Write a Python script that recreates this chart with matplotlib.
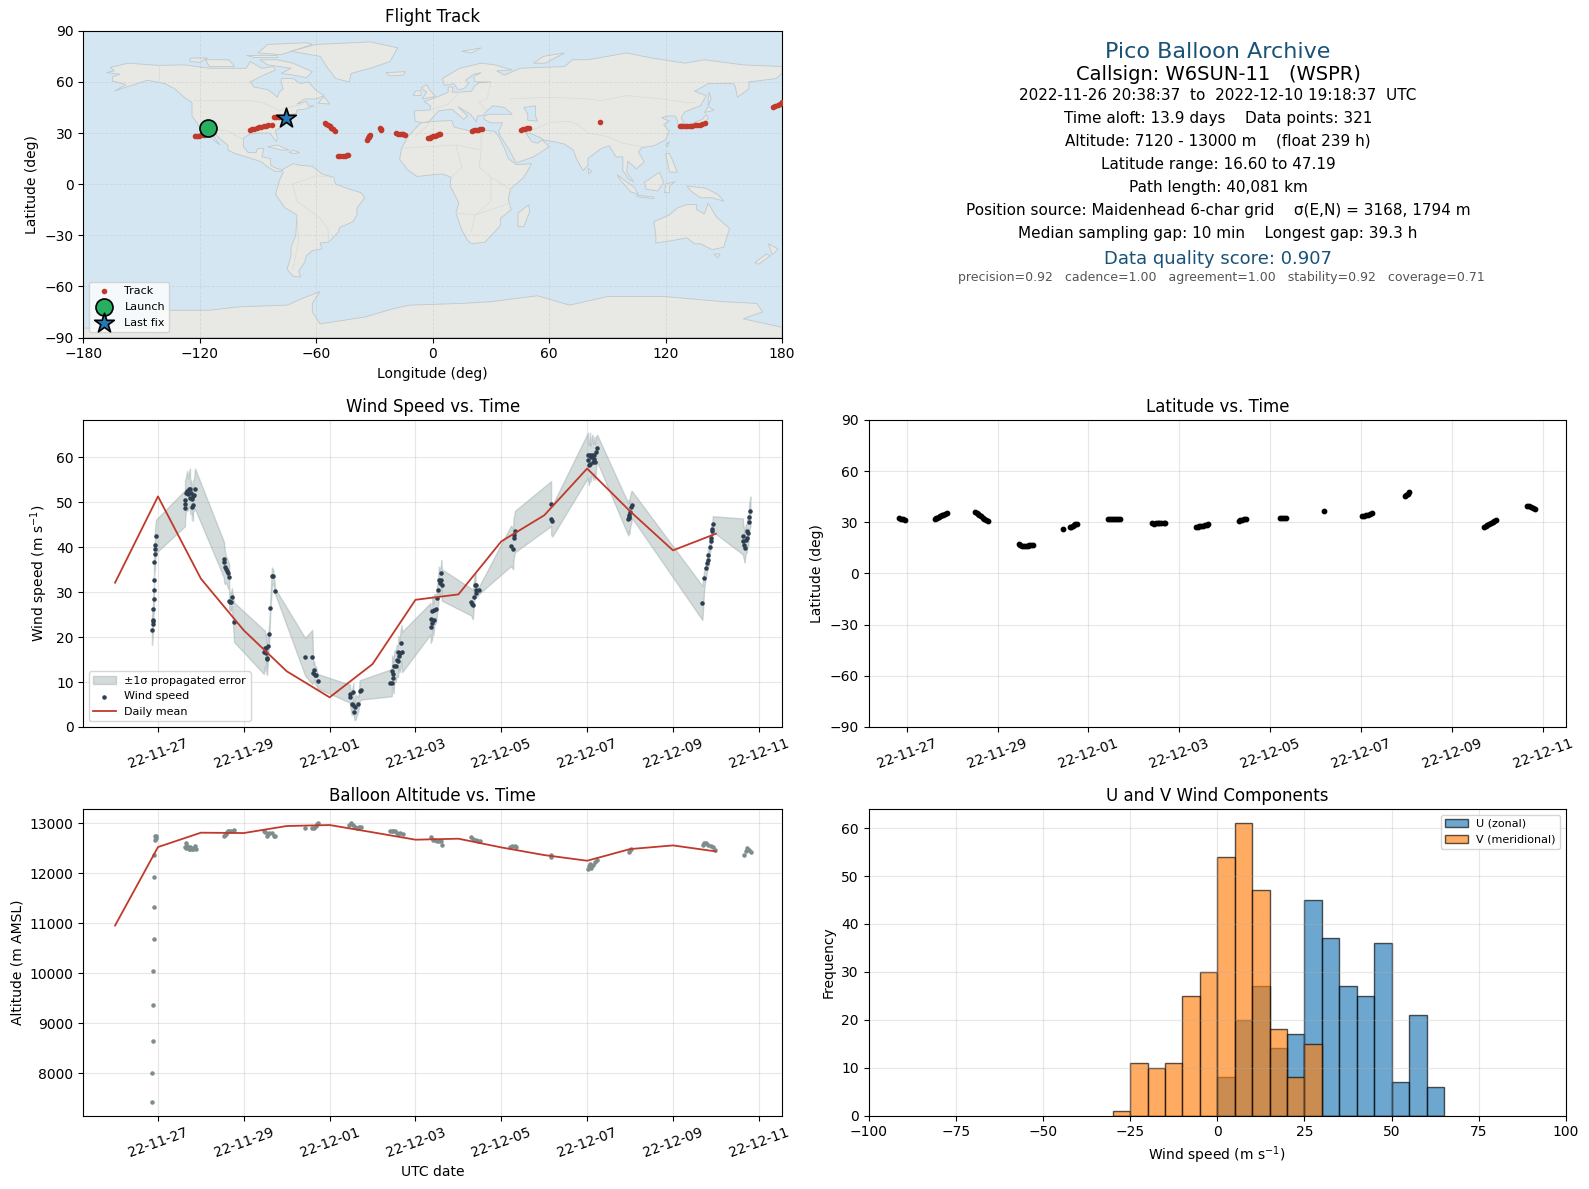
import numpy as np
import pandas as pd
import matplotlib
matplotlib.use('Agg')
import matplotlib.pyplot as plt
import matplotlib.dates as mdates
from matplotlib.patches import Polygon

# colors
RED = '#c0392b'
NAVY = '#2c3e50'
GREY = '#7f8c8d'
TITLE_BLUE = '#1a5276'
OCEAN = '#d4e6f1'
LAND = '#e8e8e4'
COAST = '#bfc8cc'

base_date = pd.Timestamp('2022-11-26')

# wind speed samples, days since 2022-11-26
wind_days = [0.860, 0.875, 0.875, 0.883, 0.883, 0.907, 0.907, 0.907, 0.907, 0.930, 0.930, 0.930, 0.953,
             1.630, 1.630, 1.630, 1.654, 1.677, 1.700, 1.724, 1.747, 1.747, 1.770, 1.794, 1.794, 1.817, 1.817, 1.840, 1.864,
             2.533, 2.540, 2.556, 2.580, 2.600, 2.620, 2.658, 2.660, 2.680, 2.700, 2.720, 2.774,
             3.467, 3.490, 3.510, 3.520, 3.530, 3.540, 3.568, 3.590, 3.615, 3.654, 3.685, 3.730,
             4.430, 4.595, 4.620, 4.640, 4.655, 4.680, 4.720,
             5.475, 5.476, 5.514, 5.553, 5.554, 5.576, 5.600, 5.670, 5.700, 5.730,
             6.416, 6.447, 6.455, 6.470, 6.486, 6.510, 6.540, 6.564, 6.595, 6.600, 6.620, 6.640, 6.673, 6.690,
             7.350, 7.358, 7.389, 7.390, 7.420, 7.436, 7.482, 7.506, 7.530, 7.545, 7.560, 7.590, 7.600, 7.615,
             8.300, 8.323, 8.338, 8.354, 8.377, 8.400, 8.401, 8.416, 8.479,
             9.226, 9.272, 9.288, 9.304, 9.320,
             10.160, 10.161, 10.190,
             11.020, 11.021, 11.040, 11.070, 11.075, 11.100, 11.120, 11.140, 11.160, 11.170, 11.185, 11.210, 11.233,
             11.957, 11.965, 11.970, 11.980, 12.000, 12.030, 12.043,
             13.685, 13.730, 13.780, 13.800, 13.817, 13.825, 13.856, 13.880, 13.887, 13.900, 13.920, 13.926,
             14.626, 14.640, 14.660, 14.670, 14.690, 14.720, 14.735, 14.750, 14.770, 14.775, 14.805]
wind_speed = [21.6, 23.0, 23.6, 23.9, 26.2, 28.4, 30.4, 32.7, 36.7, 38.4, 39.5, 40.4, 42.4,
              48.7, 49.6, 50.4, 52.1, 52.5, 51.8, 53.0, 53.0, 50.9, 52.0, 49.0, 50.7, 49.4, 51.3, 51.6, 53.0,
              37.3, 36.6, 35.6, 35.1, 34.8, 34.2, 33.3, 28.1, 27.9, 27.8, 28.9, 23.3,
              16.7, 17.5, 16.4, 17.6, 15.3, 15.1, 18.0, 20.7, 26.4, 33.5, 33.5, 30.2,
              15.6, 15.6, 12.0, 12.6, 11.6, 11.5, 10.2,
              7.4, 6.7, 5.1, 7.8, 4.8, 3.3, 4.4, 5.1, 8.1, 8.3,
              9.8, 9.9, 12.4, 11.8, 11.0, 13.5, 13.6, 14.8, 14.6, 16.7, 15.7, 16.4, 18.7, 16.7,
              24.1, 22.2, 23.1, 25.7, 23.9, 26.1, 26.3, 28.7, 30.5, 32.7, 32.0, 32.7, 34.2, 31.6,
              27.8, 27.4, 27.2, 29.0, 31.6, 31.6, 30.4, 29.8, 30.4,
              40.3, 39.6, 42.1, 42.7, 43.5,
              49.7, 46.2, 45.9,
              60.5, 59.4, 58.3, 60.5, 58.6, 60.0, 60.5, 59.0, 59.7, 60.5, 59.0, 61.2, 62.0,
              46.2, 46.8, 47.2, 46.4, 47.9, 49.0, 49.5,
              27.6, 33.1, 35.3, 36.4, 38.3, 37.2, 40.1, 41.3, 42.0, 43.5, 44.0, 45.2,
              42.4, 41.3, 40.5, 39.8, 41.7, 42.1, 43.5, 43.1, 45.6, 46.7, 48.0]
wind_err = [3.3, 3.0, 3.0, 3.0, 2.5, 2.5, 2.5, 3.0, 3.0, 3.3, 3.3, 3.5, 3.7,
            4.0, 4.0, 4.5, 3.5, 4.5, 3.5, 3.8, 4.5, 3.5, 3.0, 3.0, 3.5, 3.5, 3.5, 3.5, 4.5,
            4.0, 4.3, 3.8, 3.0, 3.0, 3.0, 3.0, 2.0, 2.0, 2.0, 2.0, 4.4,
            4.9, 4.0, 4.0, 3.0, 3.5, 3.5, 2.5, 2.0, 1.5, 2.0, 1.5, 0.6,
            4.2, 6.0, 2.0, 2.0, 2.0, 2.0, 1.6,
            2.0, 2.0, 2.5, 2.0, 2.0, 1.7, 2.8, 1.5, 2.3, 2.2,
            3.0, 3.0, 3.5, 3.5, 3.5, 3.5, 3.5, 3.5, 3.5, 3.5, 3.5, 4.0, 4.0, 4.5,
            3.5, 3.5, 3.5, 3.5, 3.5, 3.5, 3.0, 3.0, 3.0, 3.0, 3.0, 3.0, 3.0, 3.5,
            3.0, 3.2, 3.2, 3.0, 2.5, 2.5, 1.0, 1.0, 0.8,
            4.5, 4.5, 4.5, 4.5, 4.6,
            5.0, 3.5, 3.5,
            5.0, 4.5, 4.5, 5.0, 4.0, 4.0, 4.5, 4.0, 4.0, 4.0, 4.0, 3.5, 3.0,
            3.6, 3.6, 3.5, 3.5, 3.5, 3.5, 3.0,
            3.8, 2.0, 1.5, 1.5, 1.5, 1.5, 1.5, 1.5, 1.5, 1.5, 1.7, 1.7,
            4.0, 3.5, 3.5, 3.2, 3.2, 3.2, 3.0, 3.0, 3.0, 3.0, 3.3]

daily_days = list(range(15))
daily_wind = [32.1, 51.3, 33.0, 21.5, 12.4, 6.6, 14.0, 28.3, 29.5, 41.3, 47.1, 57.5, 48.0, 39.3, 43.0]
daily_alt = [10953, 12520, 12807, 12800, 12940, 12960, 12815, 12667, 12687, 12513, 12360, 12247, 12480, 12553, 12433]

# altitude samples
alt_days = [0.860, 0.860, 0.883, 0.883, 0.883, 0.907, 0.907, 0.907, 0.907, 0.930, 0.930, 0.945, 0.953,
            1.630, 1.646, 1.660, 1.677, 1.700, 1.720, 1.740, 1.755, 1.780, 1.800, 1.817, 1.840, 1.856, 1.880,
            2.540, 2.560, 2.580, 2.610, 2.630, 2.660, 2.710, 2.770,
            3.467, 3.500, 3.530, 3.560, 3.590, 3.646, 3.700, 3.730,
            4.430, 4.595, 4.634, 4.673, 4.710, 4.735,
            5.460, 5.500, 5.537, 5.590, 5.630, 5.677, 5.720,
            6.410, 6.450, 6.486, 6.525, 6.564, 6.600, 6.640, 6.700,
            7.366, 7.405, 7.444, 7.490, 7.550, 7.590, 7.615,
            8.300, 8.340, 8.400, 8.455, 8.495,
            9.210, 9.257, 9.310, 9.335,
            10.160, 10.161,
            11.020, 11.045, 11.075, 11.100, 11.140, 11.180, 11.220,
            11.980, 11.995, 12.025,
            13.690, 13.720, 13.770, 13.825, 13.880, 13.925, 13.970,
            14.650, 14.690, 14.720, 14.770, 14.825]
alt_meters = [7420, 8000, 8640, 9360, 10040, 10680, 11320, 11920, 12360, 12660, 12747, 12710, 12747,
              12513, 12500, 12600, 12547, 12513, 12490, 12480, 12527, 12500, 12490, 12480, 12500, 12547, 12480,
              12733, 12760, 12780, 12813, 12840, 12847, 12847, 12860,
              12833, 12813, 12747, 12790, 12800, 12793, 12747, 12740,
              12907, 12893, 12893, 12947, 12987, 13000,
              12960, 12993, 12967, 12927, 12900, 12927, 12913,
              12833, 12847, 12847, 12833, 12793, 12780, 12793, 12780,
              12727, 12667, 12660, 12647, 12633, 12647, 12560,
              12713, 12680, 12660, 12647, 12647,
              12527, 12547, 12547, 12527,
              12367, 12313,
              12080, 12147, 12180, 12100, 12167, 12213, 12260,
              12413, 12460, 12480,
              12560, 12600, 12593, 12567, 12547, 12513, 12460,
              12367, 12447, 12500, 12460, 12420]

# latitude samples
lat_days = [0.84, 0.88, 0.92, 0.97,
            1.62, 1.65, 1.68, 1.71, 1.74, 1.77, 1.80, 1.84, 1.88,
            2.51, 2.54, 2.57, 2.60, 2.63, 2.67, 2.71, 2.75, 2.79,
            3.47, 3.50, 3.54, 3.58, 3.62, 3.66, 3.70, 3.74, 3.77,
            4.45, 4.59, 4.62, 4.65, 4.68, 4.71, 4.74,
            5.44, 5.48, 5.52, 5.56, 5.60, 5.65, 5.70,
            6.40, 6.44, 6.48, 6.52, 6.56, 6.60, 6.65, 6.69,
            7.36, 7.40, 7.44, 7.48, 7.52, 7.56, 7.60, 7.63,
            8.30, 8.34, 8.38, 8.42, 8.47,
            9.22, 9.26, 9.30, 9.35,
            10.17,
            11.02, 11.06, 11.10, 11.15, 11.19, 11.23,
            11.96, 11.99, 12.02, 12.04,
            13.69, 13.73, 13.77, 13.81, 13.85, 13.89, 13.92, 13.95,
            14.64, 14.68, 14.72, 14.77, 14.81]
lat_deg = [32.7, 32.2, 31.9, 31.4,
           32.0, 32.3, 32.8, 33.2, 33.7, 34.1, 34.5, 35.0, 35.3,
           35.9, 35.3, 34.8, 34.2, 33.5, 32.8, 32.1, 31.5, 30.8,
           17.2, 16.6, 16.2, 16.2, 16.3, 16.3, 16.6, 16.9, 16.9,
           25.9, 27.0, 27.5, 27.9, 28.4, 28.8, 29.0,
           31.8, 31.8, 31.8, 31.8, 31.8, 31.8, 31.8,
           29.4, 29.3, 29.4, 29.4, 29.5, 29.4, 29.4, 29.5,
           27.4, 27.4, 27.6, 27.8, 28.0, 28.4, 28.7, 28.8,
           31.0, 31.3, 31.6, 31.9, 32.2,
           32.4, 32.4, 32.4, 32.4,
           36.5,
           33.9, 34.0, 34.2, 34.4, 34.9, 35.3,
           45.2, 45.9, 46.8, 47.5,
           27.4, 28.0, 28.5, 29.0, 29.6, 30.2, 30.8, 31.4,
           39.8, 39.4, 39.0, 38.5, 37.9]

# track on the map
track_lon = [-122.6, -121.5, -120.4, -119.2, -117.9,
             -94.2, -93.0, -91.8, -90.6, -89.4, -88.2, -87.0, -85.8, -84.6, -82.9,
             -81.7, -80.5, -79.3, -78.0, -76.8, -75.8,
             -55.5, -54.7, -53.9, -53.0, -52.2, -51.3, -50.5,
             -48.6, -47.5, -46.4, -45.3, -44.3, -43.4,
             -34.0, -33.5, -33.0, -32.6, -32.1,
             -26.9, -26.6, -26.4,
             -19.1, -18.0, -17.0, -16.0, -15.2, -14.4,
             -2.6, -1.6, -0.6, 0.4, 1.4, 2.4, 3.2, 4.0,
             20.3, 21.3, 22.3, 23.3, 24.3, 25.3,
             45.4, 46.4, 47.4, 48.4, 49.4,
             86.0,
             127.3, 128.6, 129.9, 131.2, 132.5, 133.8, 135.1, 136.4, 137.7, 139.0, 140.3,
             175.3, 176.5, 177.7, 178.9, 180.0]
track_lat = [28.0, 28.2, 28.4, 28.7, 29.0,
             32.0, 32.3, 32.6, 33.0, 33.3, 33.6, 33.9, 34.2, 34.6, 35.0,
             39.2, 39.3, 39.3, 39.2, 39.1, 39.0,
             36.0, 35.5, 34.8, 34.0, 33.2, 32.3, 31.4,
             16.7, 16.7, 16.7, 16.8, 16.9, 17.1,
             26.0, 26.8, 27.5, 28.3, 29.0,
             32.8, 32.1, 31.6,
             29.9, 29.7, 29.5, 29.4, 29.2, 29.0,
             27.0, 27.3, 27.7, 28.0, 28.4, 28.8, 29.2, 29.7,
             31.4, 31.6, 31.8, 31.9, 32.1, 32.2,
             32.0, 32.3, 32.6, 32.8, 33.0,
             36.3,
             34.0, 34.1, 34.2, 34.2, 34.3, 34.4, 34.5, 34.7, 34.9, 35.2, 35.7,
             45.0, 45.8, 46.5, 47.3, 48.0]
launch_lon, launch_lat = -116.0, 33.0
last_lon, last_lat = -75.8, 38.7

# rough coastlines (lon, lat)
land_polys = [
    [(-168, 65.5), (-164, 66.5), (-166, 68.5), (-157, 71), (-141, 69.7), (-128, 70), (-115, 68), (-108, 68), (-96, 68),
     (-94, 72), (-88, 68), (-82, 69), (-81, 67), (-87, 64), (-94, 60), (-92, 57), (-85, 55.5), (-82, 53), (-80, 51),
     (-79, 54), (-77, 56), (-78, 59), (-78, 62), (-72, 62), (-68, 59), (-64, 60), (-60, 55), (-56, 52), (-60, 50),
     (-66, 50), (-70, 47), (-65, 48.5), (-64, 46), (-61, 46), (-66, 44), (-70, 43.5), (-70, 41.7), (-74, 40.5),
     (-75.5, 38), (-76, 35), (-81, 31.5), (-80, 27), (-80.5, 25), (-82, 27), (-84, 30), (-89, 30), (-94, 29.5),
     (-97.5, 27), (-97.5, 22), (-95, 18.5), (-91, 18.5), (-90, 21), (-87, 21), (-88, 16), (-83.5, 15), (-83.5, 11),
     (-80, 9), (-77.5, 8.5), (-78, 7.5), (-81, 7.5), (-85, 10), (-88, 13), (-92, 14.5), (-96, 16), (-102, 18),
     (-105.5, 20), (-105.5, 23), (-109, 26), (-112.5, 30), (-114.5, 31.5), (-111, 25), (-109.5, 23), (-112, 25),
     (-115, 29), (-117, 32.5), (-120.5, 34.5), (-124, 40), (-124, 48), (-128, 51), (-133, 56), (-138, 59), (-147, 61),
     (-152, 59), (-158, 57), (-164, 54.5), (-158, 58.5), (-165, 60.5), (-165, 63), (-161, 64.5)],
    [(-80, 73), (-72, 71), (-62, 66), (-65, 62.5), (-72, 64), (-78, 65), (-73, 68), (-85, 70), (-89, 73)],
    [(-117, 73), (-105, 73), (-102, 69), (-115, 69)],
    [(-125, 74), (-116, 74), (-120, 71.5), (-125, 72)],
    [(-90, 77), (-85, 82), (-65, 83), (-62, 82), (-78, 76)],
    [(-96, 76), (-80, 76), (-80, 74.5), (-92, 74.5)],
    [(-59, 47.5), (-56, 51.5), (-53, 47)],
    [(-85, 22), (-80, 23), (-74, 20), (-78, 20)],
    [(-74, 18.5), (-72, 20), (-68.5, 18.5), (-71, 18)],
    [(-73, 78), (-60, 82), (-32, 83.5), (-18, 80), (-22, 72), (-32, 68), (-42, 65), (-43, 60), (-50, 62), (-54, 68), (-58, 75)],
    [(-77.5, 8.5), (-72, 12), (-68, 11), (-62, 10.5), (-57, 6), (-51, 4), (-50, 0), (-44, -2.5), (-37, -5), (-35, -8),
     (-39, -14), (-39, -18), (-41, -22), (-48, -25.5), (-48.5, -28), (-53.5, -34), (-58, -34.5), (-57, -38), (-62, -39),
     (-65, -42), (-66, -46), (-69, -51), (-68, -54.5), (-72, -54), (-75, -50), (-73, -42), (-73, -37), (-70.5, -30),
     (-70, -18), (-76, -14), (-81, -6), (-80, -2), (-79, 2), (-77, 7)],
    [(-6, 36), (3, 37), (10, 37.3), (11, 33.5), (20, 31), (25, 32), (32, 31), (34, 28), (37, 21), (39, 15), (43, 11.5),
     (51, 12), (47, 4), (40, -3), (39, -9), (40.5, -15), (35, -20), (35, -24), (32, -28), (27, -34), (20, -35), (18, -33),
     (15, -27), (12, -17), (13.5, -11), (9, -1), (9.5, 4), (5, 6), (-4, 5), (-8, 4.5), (-13, 8.5), (-17, 14.5), (-16, 21),
     (-13, 27.5), (-9.5, 32)],
    [(-9, 37), (-9.5, 43), (-1.5, 43.5), (-1, 46), (-4.5, 48.5), (2, 51), (8, 54), (8, 57), (10.5, 57), (10, 54), (14, 54),
     (20, 54.5), (21.5, 57.5), (24, 59.5), (30, 60), (22, 60), (21, 63), (25, 65.5), (21, 64.5), (17, 61), (18.5, 59),
     (16, 56), (13, 55.5), (11, 59), (6, 58), (5, 62), (14, 68), (25, 71), (32, 70), (41, 67), (33, 66.5), (37, 64), (45, 68),
     (55, 68.5), (68, 69), (72, 73), (80, 73), (100, 77), (113, 74), (130, 71), (140, 73), (160, 70), (180, 69), (180, 65),
     (177, 62), (163, 60), (163, 56), (157, 51), (156, 57), (155, 59), (142, 59), (135, 54.5), (141, 52), (138, 46),
     (130, 42.5), (128, 39), (129.5, 36), (126.5, 34.5), (126, 37.5), (125, 40), (121, 40), (118, 39), (122, 37), (119, 35),
     (122, 31), (120, 26), (114, 22.5), (108, 21.5), (106, 19), (109, 13), (105, 9), (100.5, 13.5), (100, 7), (103.5, 1.5),
     (101, 3), (98, 8), (98, 16), (94.5, 16), (91, 22.5), (87, 21), (80, 15), (80, 11), (77.5, 8), (74, 15), (72.5, 20),
     (68, 23.5), (62, 25), (57, 26), (56, 27), (50, 30), (48, 30), (51, 25), (54, 24), (56.5, 26), (60, 22), (52, 16),
     (43, 12.5), (39, 21), (35, 28), (34, 31), (36, 36), (30, 36), (26.5, 38), (26.5, 40), (29, 41), (41, 41), (37, 45),
     (31, 46), (28, 43), (26, 40.5), (23, 40), (22.5, 36.5), (19.5, 41), (13, 45.5), (18, 40), (16, 38), (10, 44), (3, 43),
     (0, 39), (-2, 36.7), (-5.5, 36)],
    [(-5.5, 50), (1.5, 51.5), (-2, 56), (-3, 58.5), (-6, 56.5), (-3, 54)],
    [(-10, 52), (-6, 52), (-6, 55), (-9, 54.5)],
    [(-24, 65.5), (-14, 66), (-15, 64), (-22, 63.5)],
    [(15, 78), (25, 80), (20, 77)],
    [(52, 71), (57, 75), (68, 77), (58, 71)],
    [(49.5, -12), (50, -16), (47, -25), (44, -25), (44, -17)],
    [(130, 33), (135, 34), (140, 35), (142, 39), (141, 41), (139, 38), (133, 35.5)],
    [(140, 42), (145, 43.5), (142, 45.5)],
    [(142, 46), (143.5, 50), (142.5, 54), (142, 50)],
    [(120, 23), (122, 25), (121, 22)],
    [(80, 9.5), (82, 7.5), (80.5, 6)],
    [(95, 5.5), (104, -2), (106, -6), (102, -4.5), (97, 2)],
    [(109, 1), (117, 7), (119, 1), (116, -4), (110, -3)],
    [(105, -6.5), (114, -7.5), (114, -8.5), (106, -7.5)],
    [(119.5, -5), (120, 0), (125, 1.5), (122, -1), (122, -5)],
    [(131, -1), (141, -2.5), (147, -6), (150, -10), (144, -8), (138, -8), (133, -4)],
    [(120, 18), (122, 18), (124, 13), (126, 7), (122, 7), (121, 13)],
    [(114, -22), (122, -18), (126, -14), (131, -12), (136, -12), (136, -15), (140, -17.5), (142, -11), (146, -19), (153, -26),
     (150, -37), (144, -38.5), (138, -35), (135, -35), (131, -31.5), (124, -33), (115, -34.5), (115, -30)],
    [(145, -41), (148, -41), (147, -43.5)],
    [(173, -35), (178, -38), (175, -41.5)],
    [(172, -41), (174, -42), (168, -47), (166, -46)],
    [(-180, -84.5), (-142, -84.5), (-142, -74), (-115, -74), (-100, -72), (-75, -71), (-67, -67), (-58, -63), (-62, -70),
     (-62, -75), (-58, -82), (-35, -78), (-20, -73), (-12, -71), (15, -70), (30, -69), (54, -65.5), (70.5, -71), (90, -66),
     (120, -66), (150, -69), (167, -70), (170, -75), (160, -79), (180, -84), (180, -90), (-180, -90)],
]
lake_polys = [[(47, 45), (53, 46), (53, 40), (54, 37), (49, 37.5), (49, 41)]]
border_lines = [
    [(-123, 49), (-95, 49), (-88, 48), (-82, 45), (-79, 43), (-75, 45), (-70, 46), (-67, 47)],
    [(-141, 69.7), (-141, 60)],
    [(-117, 32.5), (-106, 31.5), (-97.5, 26)],
    [(-70, -18), (-69, -33), (-72, -50)],
    [(-70, -10), (-58, -20), (-54, -26), (-53.5, -34)],
    [(-70, -10), (-72, 0), (-67, 2), (-60, 5), (-51, 4)],
    [(-17, 21), (12, 23), (25, 20), (25, 32)],
    [(12, 23), (15, 10), (9.5, 4)],
    [(25, 20), (24, 10), (30, 4), (40, -3)],
    [(12, -17), (22, -18), (30, -15), (40, -11)],
    [(30, 4), (30, -10), (22, -18), (20, -28)],
    [(-9, 28), (-2, 35)],
    [(30, 60), (28, 50), (24, 48), (28, 43)],
    [(40, 50), (60, 51), (80, 50), (87, 49), (100, 52), (118, 50), (130, 48), (135, 48)],
    [(48, 30), (60, 36), (70, 37), (75, 35), (80, 30), (90, 28), (98, 24), (108, 22)],
    [(-2, 43), (8, 47), (14, 54)],
]

# histogram counts
hist_edges = [-30, -25, -20, -15, -10, -5, 0, 5, 10, 15, 20, 25, 30, 35, 40, 45, 50, 55, 60, 65]
u_counts = [0, 0, 0, 0, 0, 0, 8, 20, 27, 14, 17, 45, 37, 27, 25, 36, 7, 21, 6]
v_counts = [1, 11, 10, 11, 25, 30, 54, 61, 47, 18, 8, 15, 0, 0, 0, 0, 0, 0, 0]

info_lines = [
    ('Pico Balloon Archive', 16, TITLE_BLUE, 1218, 51.8),
    ('Callsign: W6SUN-11   (WSPR)', 14, 'black', 1218, 74),
    ('2022-11-26 20:38:37  to  2022-12-10 19:18:37  UTC', 11, 'black', 1218, 95.4),
    ('Time aloft: 13.9 days    Data points: 321', 11, 'black', 1218, 118),
    ('Altitude: 7120 - 13000 m    (float 239 h)', 11, 'black', 1218, 140.8),
    ('Latitude range: 16.60 to 47.19', 11, 'black', 1218, 164),
    ('Path length: 40,081 km', 11, 'black', 1218, 187.5),
    ('Position source: Maidenhead 6-char grid    σ(E,N) = 3168, 1794 m', 11, 'black', 1218, 210),
    ('Median sampling gap: 10 min    Longest gap: 39.3 h', 11, 'black', 1218, 233.2),
    ('Data quality score: 0.907', 13, TITLE_BLUE, 1218, 258.8),
    ('precision=0.92   cadence=1.00   agreement=1.00   stability=0.92   coverage=0.71', 9, '#555555', 1221, 278),
]

W, H = 1589, 1189
fig = plt.figure(figsize=(W / 100, H / 100), dpi=100)


def make_axes(left, top, right, bottom):
    return fig.add_axes([left / W, 1 - bottom / H, (right - left) / W, (bottom - top) / H])


def to_times(days):
    return base_date + pd.to_timedelta(np.array(days, dtype=float), unit='D')


def date_axis(ax, xlim):
    tick_days = np.arange(1, 16, 2)
    ax.set_xticks(to_times(tick_days))
    ax.xaxis.set_major_formatter(mdates.DateFormatter('%y-%m-%d'))
    ax.set_xlim(to_times(xlim))
    ax.tick_params(axis='x', labelrotation=20)
    ax.grid(True, alpha=0.3)


# map
ax_map = make_axes(83.3, 30.8, 782, 337.5)
ax_map.set_facecolor(OCEAN)
for poly in land_polys:
    ax_map.add_patch(Polygon(poly, closed=True, facecolor=LAND, edgecolor=COAST, linewidth=0.6, zorder=1))
for poly in lake_polys:
    ax_map.add_patch(Polygon(poly, closed=True, facecolor=OCEAN, edgecolor=COAST, linewidth=0.6, zorder=1))
for line in border_lines:
    pts = np.array(line)
    ax_map.plot(pts[:, 0], pts[:, 1], color='#d9dbd9', linewidth=0.5, zorder=1.5)
ax_map.scatter(track_lon, track_lat, s=9, color=RED, zorder=3, label='Track')
ax_map.scatter([launch_lon], [launch_lat], s=150, color='#27ae60', edgecolor='black', linewidth=1.2, zorder=4, label='Launch')
ax_map.scatter([last_lon], [last_lat], s=220, marker='*', color='#2478b4', edgecolor='black', linewidth=1.2, zorder=5, label='Last fix')
ax_map.set_xlim(-180, 180)
ax_map.set_ylim(-90, 90)
ax_map.set_xticks(np.arange(-180, 181, 60))
ax_map.set_yticks(np.arange(-90, 91, 30))
ax_map.grid(True, alpha=0.3, linestyle='--', linewidth=0.6)
ax_map.set_title('Flight Track')
ax_map.set_xlabel('Longitude (deg)')
ax_map.set_ylabel('Latitude (deg)')
ax_map.legend(loc='lower left', fontsize=8)

# summary text
for text, size, color, xpx, ypx in info_lines:
    fig.text(xpx / W, 1 - ypx / H, text, fontsize=size, color=color, ha='center', va='center')

# wind speed
order = np.argsort(wind_days)
t_sorted = np.array(wind_days)[order]
w_sorted = np.array(wind_speed)[order]
e_sorted = np.array(wind_err)[order]
ax_wind = make_axes(83.3, 420, 782, 727)
ax_wind.fill_between(to_times(t_sorted), w_sorted - e_sorted, w_sorted + e_sorted, color='#95a5a6', alpha=0.4,
                     label='±1σ propagated error')
ax_wind.scatter(to_times(wind_days), wind_speed, s=5, color=NAVY, zorder=3, label='Wind speed')
ax_wind.plot(to_times(daily_days), daily_wind, color=RED, linewidth=1.3, zorder=4, label='Daily mean')
date_axis(ax_wind, [-0.74, 15.54])
ax_wind.set_ylim(0, 68.3)
ax_wind.set_title('Wind Speed vs. Time')
ax_wind.set_ylabel('Wind speed (m s$^{-1}$)')
ax_wind.legend(loc='lower left', fontsize=8)

# latitude
ax_lat = make_axes(868.5, 420, 1566, 727)
ax_lat.scatter(to_times(lat_days), lat_deg, s=10, color='black', zorder=3)
date_axis(ax_lat, [0.163, 15.5])
ax_lat.set_ylim(-90, 90)
ax_lat.set_yticks(np.arange(-90, 91, 30))
ax_lat.set_title('Latitude vs. Time')
ax_lat.set_ylabel('Latitude (deg)')

# altitude
ax_alt = make_axes(83.3, 809, 782, 1115.5)
ax_alt.scatter(to_times(alt_days), alt_meters, s=5, color=GREY, zorder=3)
ax_alt.plot(to_times(daily_days), daily_alt, color=RED, linewidth=1.3, zorder=4)
date_axis(ax_alt, [-0.74, 15.54])
ax_alt.set_ylim(7160, 13280)
ax_alt.set_yticks(np.arange(8000, 13001, 1000))
ax_alt.set_title('Balloon Altitude vs. Time')
ax_alt.set_ylabel('Altitude (m AMSL)')
ax_alt.set_xlabel('UTC date')

# U and V histogram
ax_hist = make_axes(868.5, 809, 1566, 1115.5)
left_edges = np.array(hist_edges[:-1], dtype=float)
widths = np.diff(hist_edges)
ax_hist.bar(left_edges, u_counts, width=widths, align='edge', color='#1f77b4', alpha=0.65, edgecolor='black', label='U (zonal)')
ax_hist.bar(left_edges, v_counts, width=widths, align='edge', color='#ff7f0e', alpha=0.65, edgecolor='black', label='V (meridional)')
ax_hist.set_xlim(-100, 100)
ax_hist.set_ylim(0, 64)
ax_hist.set_xticks(np.arange(-100, 101, 25))
ax_hist.set_yticks(np.arange(0, 61, 10))
ax_hist.grid(True, alpha=0.3)
ax_hist.set_title('U and V Wind Components')
ax_hist.set_xlabel('Wind speed (m s$^{-1}$)')
ax_hist.set_ylabel('Frequency')
ax_hist.legend(loc='upper right', fontsize=8)

fig.savefig('out.png', dpi=100)
